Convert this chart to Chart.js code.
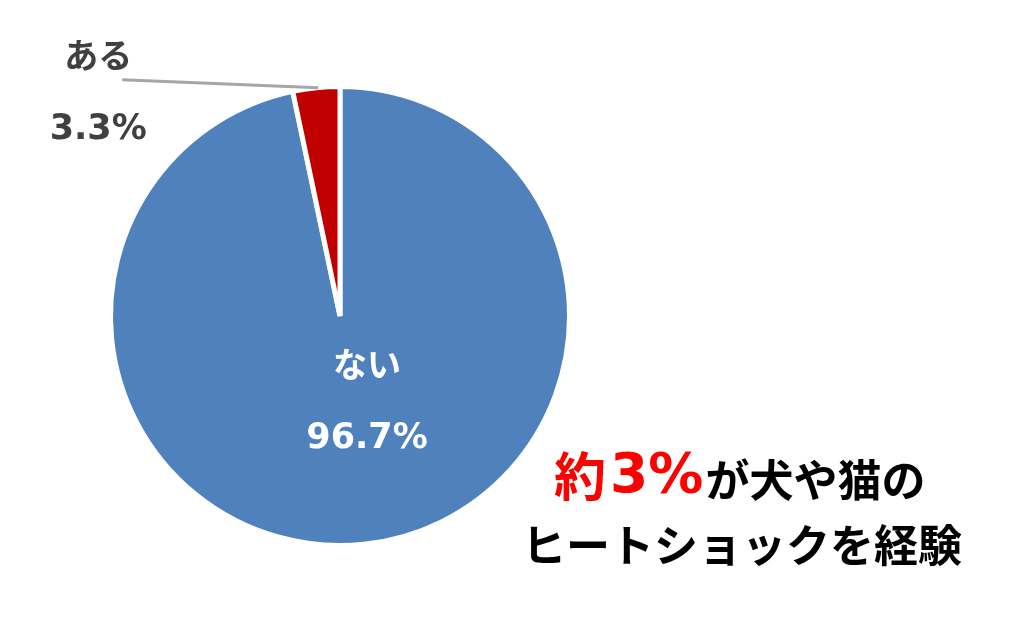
<!DOCTYPE html>
<html><head><meta charset="utf-8">
<script src="https://cdn.jsdelivr.net/npm/chart.js@4"></script>
<style>html,body{margin:0;padding:0;background:#fff;}canvas{display:block;}</style>
</head><body>
<canvas id="c" width="1024" height="625"></canvas>
<script>
const categories = ["ない", "ある"];
const values = [96.7, 3.3];
const valueLabels = ["96.7%", "3.3%"];
const colors = ["#4f81bd", "#c00000"];
const noteRedKanji = "約";
const noteRedNum = "3%";
const noteLine1 = "が犬や猫の";
const noteLine2 = "ヒートショックを経験";

const JP = '"Noto Sans CJK JP", "Noto Sans", sans-serif';
const LAT = '"DejaVu Sans", Verdana, sans-serif';

const labelPlugin = {
  id: 'labels',
  afterDraw(chart) {
    const ctx = chart.ctx;
    const arcs = chart.getDatasetMeta(0).data;
    ctx.save();
    ctx.textAlign = 'center';
    ctx.textBaseline = 'middle';
    // inner label
    const a0 = arcs[0];
    ctx.fillStyle = '#ffffff';
    ctx.font = 'bold 34px ' + JP;
    ctx.fillText(categories[0], a0.x + 27, a0.y + 48);
    ctx.font = 'bold 35px ' + LAT;
    ctx.fillText(valueLabels[0], a0.x + 27, a0.y + 123);
    // outer label with leader line
    const a1 = arcs[1];
    const mid = (a1.startAngle + a1.endAngle) / 2;
    const px = a1.x + Math.cos(mid) * a1.outerRadius;
    const py = a1.y + Math.sin(mid) * a1.outerRadius;
    ctx.strokeStyle = '#a6a6a6';
    ctx.lineWidth = 3;
    ctx.beginPath();
    ctx.moveTo(px + 2, py);
    ctx.lineTo(px - 194, py - 8);
    ctx.stroke();
    ctx.fillStyle = '#404040';
    ctx.font = 'bold 34px ' + JP;
    ctx.fillText(categories[1], px - 218, py - 33);
    ctx.font = 'bold 35px ' + LAT;
    ctx.fillText(valueLabels[1], px - 218, py + 42);
    // annotation
    ctx.textAlign = 'left';
    let x = 554;
    ctx.fillStyle = '#ff0000';
    ctx.font = 'bold 52px ' + JP;
    ctx.fillText(noteRedKanji, x, 476);
    x += ctx.measureText(noteRedKanji).width + 4;
    ctx.font = 'bold 55px ' + LAT;
    ctx.fillText(noteRedNum, x, 478);
    x += ctx.measureText(noteRedNum).width + 2;
    ctx.fillStyle = '#000000';
    ctx.font = 'bold 44px ' + JP;
    ctx.fillText(noteLine1, x, 480);
    ctx.fillText(noteLine2, 522, 545);
    ctx.restore();
  }
};

new Chart(document.getElementById('c'), {
  type: 'pie',
  data: {
    labels: categories,
    datasets: [{
      data: values,
      backgroundColor: colors,
      borderColor: '#ffffff',
      borderWidth: 5
    }]
  },
  options: {
    responsive: false,
    animation: false,
    layout: { padding: { left: 108, right: 452, top: 84, bottom: 77 } },
    plugins: { legend: { display: false }, tooltip: { enabled: false } }
  },
  plugins: [labelPlugin]
});
</script>
</body></html>
